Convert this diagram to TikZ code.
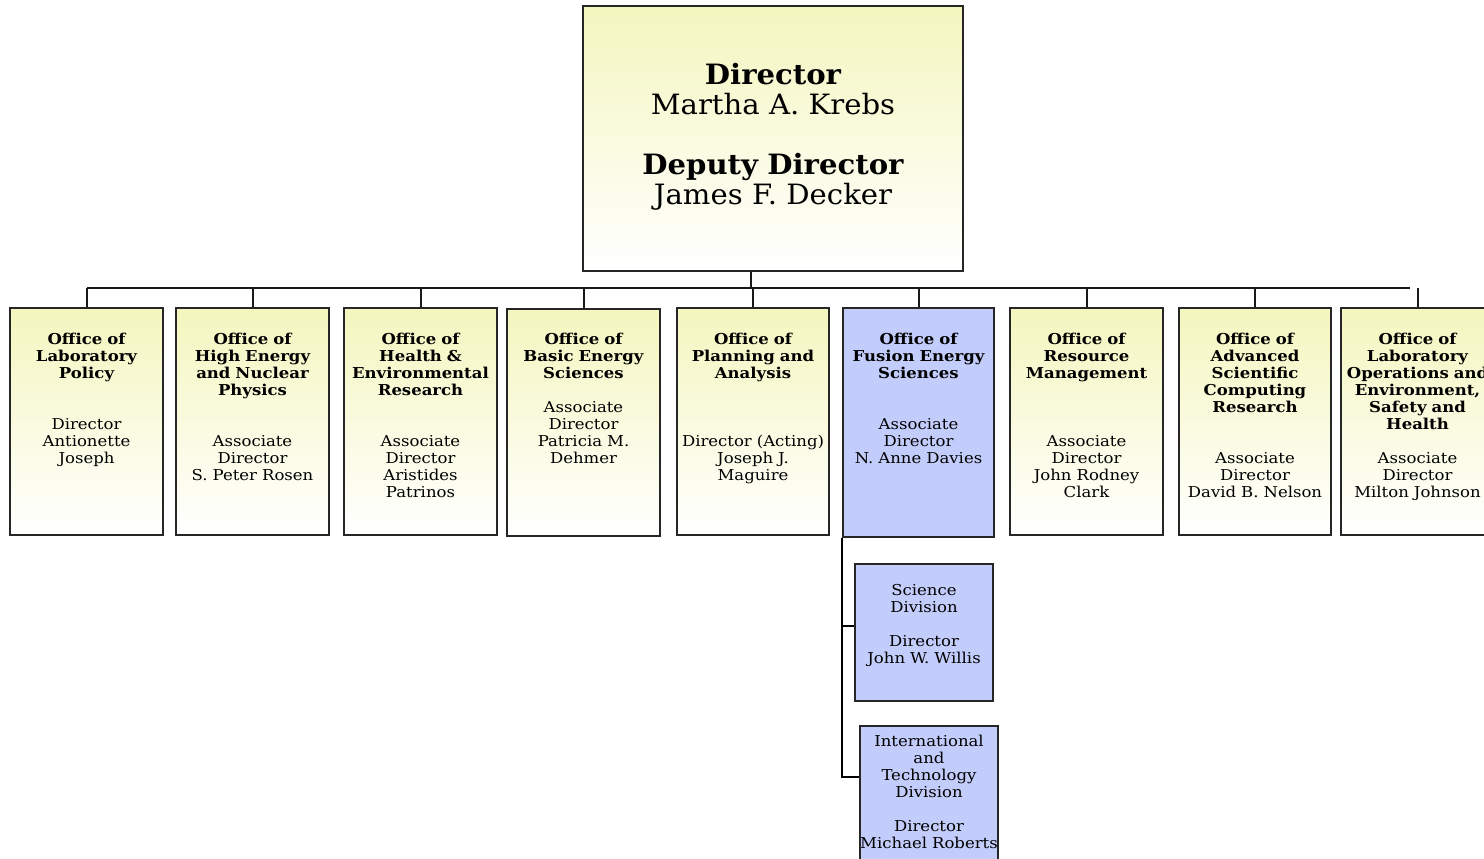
\documentclass[tikz,border=0pt]{standalone}
\usepackage{fontspec}
\setmainfont{DejaVu Serif}
\newfontfamily\chieffont[FakeStretch=1.04]{DejaVu Serif}
\newfontfamily\officefont[FakeStretch=1.1]{DejaVu Serif}
\usetikzlibrary{positioning}
\definecolor{paleyellow}{RGB}{244,246,190}
\definecolor{paleblue}{RGB}{195,205,251}
\tikzset{
  boxbase/.style={draw=black!85, line width=2pt, inner sep=0pt, anchor=north west},
  officebox/.style={boxbase, minimum width=153pt, minimum height=227pt,
    top color=paleyellow, bottom color=white},
  fusionbox/.style={boxbase, fill=paleblue},
  chiefbox/.style={boxbase, minimum width=380pt, minimum height=265pt,
    top color=paleyellow, bottom color=white},
  boxtext/.style={inner sep=0pt, anchor=north, align=center, text width=190pt,
    font=\officefont\fontsize{15}{17}\selectfont},
  chieftext/.style={inner sep=0pt, anchor=north, align=center, text width=370pt,
    font=\chieffont\fontsize{28}{30}\selectfont},
  link/.style={draw=black!90, line width=2pt},
  branch/.style={draw=black, line width=2.8pt}
}
\begin{document}
\begin{tikzpicture}[x=1pt,y=-1pt]
\useasboundingbox (0,0) rectangle (1484,859);

% director's office
\node[chiefbox] (top) at (582,5) {};
\node[chieftext, below=58pt of top.north] (toptext)
  {\bfseries Director\\\mdseries Martha A. Krebs\\[30pt]\bfseries Deputy Director\\\mdseries James F. Decker};

% offices reporting to the director
\node[officebox] (b1) at (9,307) {};
\node[officebox] (b2) at (175,307) {};
\node[officebox] (b3) at (343,307) {};
\node[officebox] (b4) at (506,308) {};
\node[officebox, minimum width=152pt] (b5) at (676,307) {};
\node[fusionbox, minimum width=151pt, minimum height=229pt] (b6) at (842,307) {};
\node[officebox] (b7) at (1009,307) {};
\node[officebox, minimum width=152pt] (b8) at (1178,307) {};
\node[officebox] (b9) at (1340,307) {};

\node[boxtext, below=26pt of b1.north] (t1)
  {\bfseries Office of\\Laboratory\\Policy\\[34pt]\mdseries Director\\Antionette\\Joseph};
\node[boxtext, below=26pt of b2.north] (t2)
  {\bfseries Office of\\High Energy\\and Nuclear\\Physics\\[34pt]\mdseries Associate\\Director\\S. Peter Rosen};
\node[boxtext, below=26pt of b3.north] (t3)
  {\bfseries Office of\\Health \&\\Environmental\\Research\\[34pt]\mdseries Associate\\Director\\Aristides\\Patrinos};
\node[boxtext, below=25pt of b4.north] (t4)
  {\bfseries Office of\\Basic Energy\\Sciences\\[17pt]\mdseries Associate\\Director\\Patricia M.\\Dehmer};
\node[boxtext, below=26pt of b5.north] (t5)
  {\bfseries Office of\\Planning and\\Analysis\\[51pt]\mdseries Director (Acting)\\Joseph J.\\Maguire};
\node[boxtext, below=26pt of b6.north] (t6)
  {\bfseries Office of\\Fusion Energy\\Sciences\\[34pt]\mdseries Associate\\Director\\N. Anne Davies};
\node[boxtext, below=26pt of b7.north] (t7)
  {\bfseries Office of\\Resource\\Management\\[51pt]\mdseries Associate\\Director\\John Rodney\\Clark};
\node[boxtext, below=26pt of b8.north] (t8)
  {\bfseries Office of\\Advanced\\Scientific\\Computing\\Research\\[34pt]\mdseries Associate\\Director\\David B. Nelson};
\node[boxtext, below=26pt of b9.north] (t9)
  {\bfseries Office of\\Laboratory\\Operations and\\Environment,\\Safety and\\Health\\[17pt]\mdseries Associate\\Director\\Milton Johnson};

% divisions of fusion energy sciences
\node[fusionbox, minimum width=138pt, minimum height=137pt] (sci) at (854,563) {};
\node[fusionbox, minimum width=138pt, minimum height=145pt] (intl) at (859,725) {};
\node[boxtext, below=21pt of sci.north] (scitext)
  {Science\\Division\\[17pt]Director\\John W. Willis};
\node[boxtext, below=10pt of intl.north] (intltext)
  {International\\and\\Technology\\Division\\[17pt]Director\\Michael Roberts};

% reporting lines
\coordinate (bus) at (751,288);
\coordinate (busleft) at (87,288);
\coordinate (busright) at (1410,288);
\draw[link] (top.south -| bus) -- (bus);
\draw[link] (busleft) -- (busright);
\foreach \b in {b1,b2,b3,b4,b5,b6,b7,b8,b9}
  \draw[link] (\b.north |- bus) -- (\b.north);
\draw[branch] (b6.south west) |- ([yshift=-63pt]sci.north west);
\draw[branch] (b6.south west) |- ([yshift=-52pt]intl.north west);
\end{tikzpicture}
\end{document}
